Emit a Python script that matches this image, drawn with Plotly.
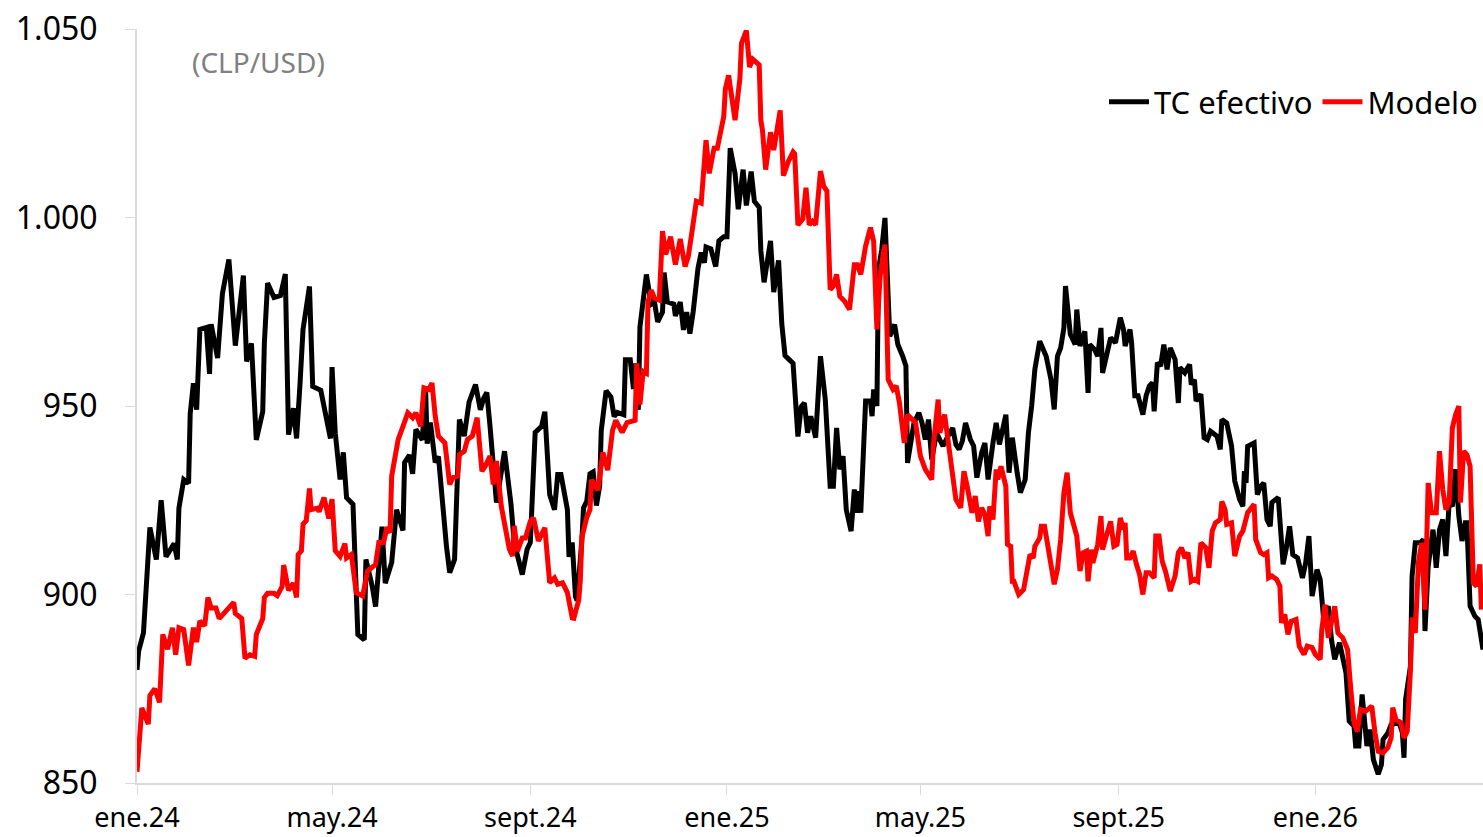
import pandas as pd
import plotly.graph_objects as go

# days since 2024-01-01
tc_days = [
    0, 1, 4, 6, 8, 12, 15, 18, 23, 25,
    26, 29, 32, 33, 35, 37, 39, 43, 45, 46,
    50, 53, 57, 61, 66, 68, 71, 74, 78, 79,
    81, 85, 89, 92, 94, 97, 99, 101, 103, 107,
    109, 114, 116, 120, 121, 123, 126, 128, 130, 134,
    137, 141, 142, 146, 148, 152, 154, 158, 161, 165,
    166, 169, 171, 173, 177, 179, 180, 182, 185, 187,
    192, 194, 197, 200, 203, 206, 210, 213, 215, 217,
    219, 223, 228, 232, 234, 239, 242, 244, 247, 251,
    253, 256, 259, 261, 263, 267, 268, 270, 272, 273,
    276, 277, 279, 281, 283, 285, 287, 288, 291, 294,
    296, 298, 302, 303, 306, 308, 309, 311, 312, 314,
    316, 319, 321, 323, 326, 327, 329, 333, 334, 337,
    339, 341, 343, 345, 348, 350, 352, 353, 356, 359,
    361, 364, 366, 368, 371, 373, 376, 378, 381, 383,
    386, 387, 389, 393, 395, 398, 400, 402, 405, 407,
    410, 412, 414, 416, 418, 421, 424, 427, 430, 432,
    434, 436, 438, 440, 443, 445, 446, 448, 449, 452,
    455, 456, 457, 459, 460, 462, 464, 465, 467, 470,
    472, 475, 477, 478, 480, 482, 485, 487, 489, 491,
    493, 496, 499, 500, 502, 506, 508, 510, 512, 514,
    517, 519, 521, 524, 526, 528, 531, 533, 535, 537,
    539, 541, 543, 546, 548, 551, 553, 555, 557, 560,
    562, 564, 567, 569, 571, 573, 575, 576, 579, 582,
    583, 585, 588, 590, 591, 594, 596, 598, 599, 602,
    604, 607, 610, 612, 613, 616, 617, 619, 621, 624,
    626, 628, 630, 631, 633, 635, 637, 639, 641, 644,
    646, 647, 650, 653, 654, 656, 657, 660, 662, 664,
    666, 670, 672, 673, 676, 679, 681, 684, 686, 687,
    688, 689, 693, 695, 697, 699, 701, 703, 704, 708,
    711, 713, 715, 717, 720, 723, 725, 727, 729, 732,
    734, 736, 739, 741, 743, 746, 748, 750, 752, 755,
    756, 758, 760, 763, 765, 767, 770, 772, 773, 776,
    778, 781, 783, 785, 786, 787, 790, 791, 793, 796,
    798, 799, 801, 804, 806, 808, 810, 812, 814, 816,
    818, 820, 822, 824, 825, 827, 830, 832, 834, 835,
]
tc_values = [
    880, 885, 889.8, 903, 917.8, 909.3, 925, 910, 913.5, 909.3,
    922.9, 930.5, 929.5, 948, 956, 949, 970.3, 970.8, 958.5, 971.7,
    962.7, 979.8, 988.9, 966, 984.6, 961.8, 966.6, 941, 948.5, 966.6,
    982.6, 978.8, 979.3, 985, 942.4, 949.4, 941.4, 955, 970.3, 981.7,
    955.2, 954.2, 949.4, 941.4, 960.3, 942.8, 930.5, 937.7, 925.7, 923.9,
    889.4, 888, 909.3, 902, 896.8, 918, 903, 908.5, 922.5, 917,
    935, 937, 932, 943.8, 941, 955, 940, 945.6, 935, 936.6,
    912.7, 905.8, 909.3, 946.4, 942, 951, 955.7, 949, 952, 953.6,
    944.6, 924.4, 938, 924, 913.8, 905.3, 912, 913.8, 943, 944.6,
    948.5, 926.5, 922.5, 931.8, 931.8, 922.5, 910, 913.8, 899.5, 898.4,
    914.6, 923, 924.7, 932, 932.5, 923.6, 928.8, 943.5, 954, 952.4,
    947.2, 948.3, 947.7, 962.3, 962.3, 954.5, 961.3, 949, 971, 977.6,
    984.9, 977, 977.6, 972.3, 974.9, 985.4, 977.6, 977, 973.9, 977.6,
    970.2, 974.9, 969.2, 974.9, 986.5, 990.7, 988, 992.2, 991.7, 987,
    993.8, 994.9, 994.9, 1018.4, 1011.7, 1002.2, 1012.7, 1003.2, 1012.2, 1004.3,
    1002.7, 991.2, 982.8, 993.8, 980.2, 988.6, 971.8, 963.4, 962.3, 961.3,
    941.9, 949.8, 950.8, 942.9, 947.3, 941.6, 963.2, 951.7, 928.7, 928.7,
    944.2, 933.2, 936.7, 922.5, 916.8, 927.9, 921.7, 927.4, 921.7, 951.3,
    951.3, 947.3, 954.4, 950, 986.2, 991.5, 999.9, 986.2, 968.5, 971.6,
    966.3, 963.2, 960.6, 934.9, 941.1, 945.5, 948.2, 945.5, 941.1, 946.4,
    935.8, 942.9, 940.2, 939.4, 941.1, 944.2, 939.8, 938.5, 940.7, 945.5,
    941.1, 939.4, 931, 937.6, 940.2, 930.5, 940.2, 945.5, 939.8, 944.6,
    947.7, 932.3, 941.6, 932.3, 927, 930.5, 942.9, 950, 959.7, 967.2,
    965, 963.2, 957, 949.1, 963.2, 965.4, 970.7, 981.8, 969, 966.3,
    975.6, 965.9, 969.8, 953.5, 966.3, 965, 963.2, 970.7, 958.8, 965,
    968.1, 966.8, 973.4, 970.3, 965.9, 970.3, 966.8, 952.7, 952.7, 947.7,
    952.7, 955.3, 956.2, 948.6, 961.5, 960.6, 966.3, 959.7, 965.4, 962.3,
    950.8, 960.2, 958.8, 961, 955.7, 957, 951.3, 953.1, 941.6, 941.1,
    943.3, 942, 938.5, 946.4, 945.5, 939.4, 930.1, 925.2, 923.4, 932.7,
    929.6, 939.3, 940.2, 926.5, 928.7, 929.6, 919.9, 918.1, 924.4, 925.7,
    908, 912.4, 918.1, 910.6, 909.7, 904.4, 908.4, 915.5, 899.6, 906.6,
    904, 894.2, 896.9, 888, 882.8, 887.2, 883.6, 879.2, 866.4, 865.1,
    859.8, 859.8, 873.5, 859.8, 864.2, 856.2, 852.3, 854.9, 861.5, 863.3,
    865.5, 866, 866, 863.3, 856.7, 872.2, 881, 904.9, 913.7, 913.7,
    914.6, 890.3, 907.5, 917.2, 907.1, 917.2, 919.9, 910.2, 924.4, 923.4,
    933.2, 920.8, 914.2, 919, 919, 896.9, 894.2, 893.4, 886.3, 885.4,
]

model_days = [
    0, 3, 7, 8, 11, 14, 16, 19, 22, 24,
    26, 29, 32, 35, 37, 39, 42, 44, 46, 49,
    51, 54, 58, 60, 61, 65, 67, 70, 73, 74,
    78, 79, 81, 85, 87, 90, 91, 94, 97, 99,
    100, 102, 103, 105, 107, 108, 112, 113, 116, 119,
    121, 123, 126, 129, 130, 133, 136, 140, 143, 148,
    150, 153, 155, 157, 158, 160, 162, 165, 168, 171,
    173, 176, 178, 181, 183, 185, 187, 191, 194, 196,
    199, 200, 203, 205, 208, 211, 214, 216, 219, 221,
    223, 226, 228, 231, 233, 234, 236, 239, 241, 244,
    246, 249, 253, 256, 259, 261, 264, 267, 270, 271,
    273, 274, 275, 276, 279, 281, 282, 286, 289, 292,
    295, 297, 301, 304, 309, 310, 312, 314, 316, 317,
    319, 321, 324, 326, 328, 331, 334, 337, 340, 342,
    344, 347, 350, 353, 355, 358, 360, 364, 365, 367,
    371, 374, 375, 378, 380, 382, 386, 387, 388, 390,
    393, 395, 399, 401, 404, 407, 408, 410, 413, 415,
    417, 419, 421, 424, 426, 428, 430, 432, 434, 436,
    439, 442, 445, 447, 449, 451, 452, 455, 457, 459,
    461, 463, 464, 466, 469, 471, 473, 476, 478, 481,
    483, 486, 489, 493, 494, 497, 498, 501, 503, 506,
    508, 511, 513, 515, 518, 520, 522, 524, 526, 528,
    529, 531, 533, 534, 536, 539, 540, 542, 543, 544,
    547, 550, 552, 554, 556, 557, 560, 561, 563, 565,
    567, 569, 571, 573, 575, 577, 579, 583, 584, 585,
    587, 589, 590, 592, 593, 596, 598, 599, 601, 604,
    606, 608, 610, 612, 613, 614, 616, 618, 620, 622,
    624, 626, 628, 631, 632, 634, 636, 638, 641, 644,
    646, 648, 650, 652, 654, 656, 658, 660, 663, 665,
    667, 669, 672, 673, 675, 676, 679, 681, 684, 686,
    689, 693, 694, 697, 699, 701, 702, 704, 707, 709,
    710, 712, 714, 716, 719, 721, 724, 726, 729, 731,
    734, 735, 737, 739, 743, 745, 748, 751, 753, 755,
    757, 759, 762, 766, 768, 770, 773, 776, 778, 779,
    781, 784, 786, 788, 790, 791, 793, 795, 797, 799,
    801, 803, 806, 808, 810, 812, 814, 816, 818, 820,
    821, 823, 825, 827, 829, 831, 833, 834,
]
model_values = [
    853, 869.9, 865.6, 873.2, 875, 871.4, 889.4, 885.5, 891.2, 884,
    891.2, 890.7, 881.2, 891.2, 887.4, 893, 891.7, 899.2, 896.4, 896.4,
    893.6, 895, 896.9, 897.9, 895, 893.6, 883.1, 884, 883.6, 889.4,
    893.6, 899.2, 900.3, 900.3, 899.7, 902.1, 907.8, 901.1, 903, 899.2,
    910.6, 911.6, 918.7, 919.6, 928.1, 922.5, 922.9, 922, 925.7, 920.2,
    925.3, 911.6, 910.1, 913.5, 909.7, 910.6, 900.5, 899.6, 906.2, 908,
    913.8, 913.8, 917.8, 916.4, 931.4, 936.7, 941.1, 944.6, 948.2, 946.9,
    948.2, 944.6, 954.8, 954.4, 956.1, 947.3, 942, 940.2, 929.2, 931,
    931.4, 937.1, 938, 941.1, 942, 946.9, 932.7, 934, 936.7, 929.2,
    935.4, 923.4, 919, 912, 910.2, 918.2, 911.5, 915, 915, 919.4,
    920.3, 914.2, 917.7, 903.1, 904.4, 902.7, 903.1, 900.5, 893.8, 893.7,
    896.9, 898.4, 903.7, 915.2, 920.4, 922.5, 930.4, 927.7, 937.7, 933,
    943.5, 946.2, 943, 945.6, 946.2, 961.3, 950.4, 959.2, 958.7, 977.6,
    980.7, 978.6, 978.1, 996.4, 990.2, 994.9, 987.5, 994.3, 987, 989.7,
    995.4, 1004.3, 1003.8, 1020.5, 1011.7, 1018.4, 1018.4, 1026.8, 1034.1, 1037.7,
    1025.8, 1036.8, 1046.2, 1049.6, 1039.9, 1042, 1040.5, 1025.8, 1023.2, 1012.7,
    1022.6, 1017.9, 1028.4, 1011.1, 1014.8, 1017.4, 1016.9, 998, 999.6, 1007.9,
    998.1, 999, 998.1, 1012.3, 1008.3, 1007, 980.9, 981.8, 984.9, 979.1,
    977.8, 975.6, 987.5, 987.5, 984.9, 991.5, 992.4, 997.3, 993.7, 970.3,
    984.4, 990.6, 992.8, 957, 954.4, 955.3, 950.8, 940.2, 947.7, 946.4,
    945.5, 936.7, 933.2, 930.5, 939.4, 951.7, 942.9, 947.7, 941.1, 931,
    925.2, 923, 932.7, 928.7, 921.7, 926.1, 919.4, 923, 921.2, 915.5,
    923.4, 919.9, 933.2, 930.5, 934, 928.7, 913.3, 912.8, 903.5, 903.5,
    900, 901.3, 905.3, 910.6, 909.7, 912.8, 915, 918.1, 918.1, 911.9,
    907.9, 902.7, 906.6, 914.6, 927, 932.3, 921.7, 915.5, 908.8, 906.2,
    911.1, 911.5, 903.5, 911.9, 908.4, 913.3, 920.8, 911.9, 915, 919.4,
    912.8, 913.3, 920.3, 917.2, 919, 909.7, 909.7, 911.5, 908, 905.3,
    900, 905.8, 905.8, 904.4, 915.5, 915.5, 908.8, 906.2, 900.9, 904.9,
    911.1, 912.4, 909.7, 911.1, 903.5, 904, 903.5, 913.7, 912.4, 907.1,
    916.8, 919, 919.9, 924.7, 922.5, 918.6, 919, 910.2, 915.5, 916.8,
    921.7, 923.9, 914.6, 911.1, 910.6, 911.1, 904.4, 904.9, 904, 902.2,
    892.5, 894.7, 889.4, 892.9, 893.4, 886.3, 884.1, 886.3, 885.9, 884.1,
    882.8, 890.7, 897.3, 888.5, 896.9, 889.8, 888.5, 885.4, 874.8, 866,
    863.7, 869.5, 869, 870.4, 863.3, 858.4, 858, 859.4, 862, 870,
    866.8, 866, 862, 863.7, 880.1, 893.9, 889.8, 908.8, 913.7, 896,
    929.6, 921.7, 921.7, 938, 927.9, 922.5, 924.4, 944.2, 947.7, 950,
    924.4, 938, 937.1, 934, 903.1, 902.2, 908, 896,
]

x_tick_dates = ["2024-01-01", "2024-05-01", "2024-09-01", "2025-01-01",
                "2025-05-01", "2025-09-01", "2026-01-01"]
x_tick_labels = ["ene.24", "may.24", "sept.24", "ene.25", "may.25", "sept.25", "ene.26"]
y_tick_vals = [850, 900, 950, 1000, 1050]
y_tick_labels = ["850", "900", "950", "1.000", "1.050"]

start = pd.Timestamp("2024-01-01")
tc_dates = start + pd.to_timedelta(tc_days, unit="D")
model_dates = start + pd.to_timedelta(model_days, unit="D")
x_end = start + pd.Timedelta(days=835)

FONT = "Noto Sans"

fig = go.Figure()
fig.add_trace(go.Scatter(x=tc_dates, y=tc_values, mode="lines", name="TC efectivo",
                         line=dict(color="#000000", width=5)))
fig.add_trace(go.Scatter(x=model_dates, y=model_values, mode="lines", name="Modelo",
                         line=dict(color="#ff0000", width=5)))

fig.update_layout(
    width=1483, height=837,
    margin=dict(l=137, r=0, t=29, b=54),
    paper_bgcolor="white", plot_bgcolor="white",
    font=dict(family=FONT, color="#000000"),
    showlegend=True,
    legend=dict(orientation="h", x=1.0, xanchor="right", y=0.903, yanchor="middle",
                font=dict(size=31, family=FONT, color="#000000"),
                bgcolor="rgba(0,0,0,0)", itemwidth=40, tracegroupgap=0),
    xaxis=dict(type="date", range=[start, x_end], tickvals=x_tick_dates, ticktext=x_tick_labels,
               showline=True, linecolor="#d9d9d9", linewidth=2, ticks="outside",
               tickcolor="#d9d9d9", ticklen=10, tickwidth=1, showgrid=False, zeroline=False,
               tickfont=dict(size=27, family=FONT, color="#000000")),
    yaxis=dict(range=[850, 1050], tickvals=y_tick_vals, ticktext=y_tick_labels,
               showline=True, linecolor="#d9d9d9", linewidth=2, ticks="outside",
               tickcolor="#d9d9d9", ticklen=10, tickwidth=1, showgrid=False, zeroline=False,
               ticklabelstandoff=21,
               tickfont=dict(size=32, family=FONT, color="#000000")),
    annotations=[dict(text="(CLP/USD)", xref="paper", yref="paper", x=53 / 1346, y=(783 - 62) / 754,
                      xanchor="left", yanchor="middle", showarrow=False,
                      font=dict(size=28, family=FONT, color="#808080"))],
)

fig.write_html("out.html", config={"displayModeBar": False},
               post_script="document.body.style.margin='0';document.body.style.padding='0';")
